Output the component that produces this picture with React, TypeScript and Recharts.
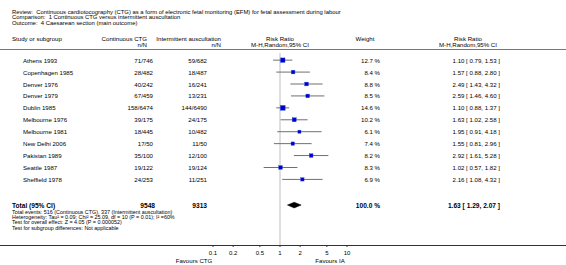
import React from "react";
import { ComposedChart, Scatter, ErrorBar, Area, XAxis, YAxis, ReferenceLine } from "recharts";

const studies = [
  "Athens 1993",
  "Copenhagen 1985",
  "Denver 1976",
  "Denver 1979",
  "Dublin 1985",
  "Melbourne 1976",
  "Melbourne 1981",
  "New Delhi 2006",
  "Pakistan 1989",
  "Seattle 1987",
  "Sheffield 1978",
];
const ctgCounts = ["71/746", "28/482", "40/242", "67/459", "158/6474", "39/175", "18/445", "17/50", "35/100", "19/122", "24/253"];
const iaCounts = ["59/682", "18/487", "16/241", "13/231", "144/6490", "24/175", "10/482", "11/50", "12/100", "19/124", "11/251"];
const weights = [12.7, 8.4, 8.8, 8.5, 14.6, 10.2, 6.1, 7.4, 8.2, 8.3, 6.9];
const riskRatios = [1.1, 1.57, 2.49, 2.59, 1.1, 1.63, 1.95, 1.55, 2.92, 1.02, 2.16];
const ciLow = [0.79, 0.88, 1.43, 1.46, 0.88, 1.02, 0.91, 0.81, 1.61, 0.57, 1.08];
const ciHigh = [1.53, 2.8, 4.32, 4.6, 1.37, 2.58, 4.18, 2.96, 5.28, 1.82, 4.32];

const totalCtg = 9548;
const totalIa = 9313;
const totalWeight = 100.0;
const totalRR = 1.63;
const totalLow = 1.29;
const totalHigh = 2.07;

const xTicks = [0.1, 0.2, 0.5, 1, 2, 5, 10];

const headerLines = [
  "Review:  Continuous cardiotocography (CTG) as a form of electronic fetal monitoring (EFM) for fetal assessment during labour",
  "Comparison:  1 Continuous CTG versus intermittent auscultation",
  "Outcome:  4 Caesarean section (main outcome)",
];
const footLines = [
  "Total events: 516 (Continuous CTG), 337 (Intermittent auscultation)",
  "Heterogeneity: Tau\u00b2 = 0.09; Chi\u00b2 = 25.09, df = 10 (P = 0.01); I\u00b2 =60%",
  "Test for overall effect: Z = 4.05 (P = 0.000052)",
  "Test for subgroup differences: Not applicable",
];

// layout
const W = 566;
const H = 265;
const TOP = 53;
const AXIS_H = 20;
const Y_DOMAIN: [number, number] = [-0.6, 15.5];
const TOTAL_ROW = 12.15;
const DIAMOND_HALF = 0.24;
const FONT = "'Liberation Sans', Arial, Helvetica, sans-serif";

const plotH = H - TOP - AXIS_H;
const rowY = (v: number) => TOP + ((v - Y_DOMAIN[0]) / (Y_DOMAIN[1] - Y_DOMAIN[0])) * plotH;

const fmt = (v: number) => (Math.round(v * 100) / 100).toFixed(2);
const ciText = (r: number, l: number, h: number) => `${fmt(r)} [ ${fmt(l)}, ${fmt(h)} ]`;

const points = studies.map((s, i) => ({
  x: riskRatios[i],
  y: i,
  w: weights[i],
  err: [riskRatios[i] - ciLow[i], ciHigh[i] - riskRatios[i]],
}));

const diamond = [
  { x: totalLow, d: [TOTAL_ROW, TOTAL_ROW] },
  { x: totalRR, d: [TOTAL_ROW - DIAMOND_HALF, TOTAL_ROW + DIAMOND_HALF] },
  { x: totalHigh, d: [TOTAL_ROW, TOTAL_ROW] },
];

const Square = (props: any) => {
  const { cx, cy, payload } = props;
  const s = Math.sqrt(payload.w) * 1.25;
  return <rect x={cx - s / 2} y={cy - s / 2} width={s} height={s} fill="#0000cc" stroke="#2244dd" strokeWidth={0.4} />;
};

const T = (p: {
  x: number;
  y: number;
  a?: "start" | "middle" | "end";
  b?: boolean;
  size?: number;
  children: React.ReactNode;
}) => (
  <text
    x={p.x}
    y={p.y}
    textAnchor={p.a || "start"}
    dominantBaseline="central"
    fontWeight={p.b ? "bold" : "normal"}
    fontSize={p.size || (p.b ? 6.6 : 6.1)}
    style={{ whiteSpace: "pre" }}
  >
    {p.children}
  </text>
);

export default function App() {
  const totalY = rowY(TOTAL_ROW);
  return (
    <div style={{ position: "absolute", left: 0, top: 0, width: W, height: H, background: "#fff" }}>
      <ComposedChart width={W} height={H} margin={{ top: TOP, right: W - 347, bottom: 0, left: 213 }}>
        <XAxis
          type="number"
          dataKey="x"
          scale="log"
          domain={[0.1, 10]}
          ticks={xTicks}
          allowDataOverflow
          axisLine={false}
          tickLine={{ stroke: "#333" }}
          tickSize={2}
          tickMargin={4}
          height={AXIS_H}
          interval={0}
          tick={{ fontSize: 6, fill: "#000", fontFamily: FONT }}
          tickFormatter={(v: number) => String(v)}
        />
        <YAxis type="number" dataKey="y" domain={Y_DOMAIN} reversed hide allowDataOverflow />
        <ReferenceLine x={1} stroke="#d4d4d4" strokeWidth={1.5} />
        <Area
          data={diamond}
          dataKey="d"
          type="linear"
          stroke="#000"
          strokeWidth={0.5}
          fill="#000"
          fillOpacity={1}
          dot={false}
          activeDot={false}
          isAnimationActive={false}
        />
        <Scatter data={points} shape={<Square />} isAnimationActive={false}>
          <ErrorBar dataKey="err" direction="x" width={0} stroke="#707070" strokeWidth={1} isAnimationActive={false} />
        </Scatter>
      </ComposedChart>
      <svg
        width={W}
        height={H}
        style={{ position: "absolute", left: 0, top: 0, pointerEvents: "none" }}
        fontFamily={FONT}
        fill="#000"
      >
        {headerLines.map((t, i) => (
          <T key={t} x={12} y={11.5 + i * 5.9} size={5.9}>
            {t}
          </T>
        ))}
        <T x={12} y={38}>Study or subgroup</T>
        <T x={147} y={38} a="end">Continuous CTG</T>
        <T x={147} y={44} a="end">n/N</T>
        <T x={221} y={38} a="end">Intermittent auscultation</T>
        <T x={221} y={44} a="end">n/N</T>
        <T x={280} y={38} a="middle">Risk Ratio</T>
        <T x={280} y={44} a="middle">M-H,Random,95% CI</T>
        <T x={365} y={38} a="middle">Weight</T>
        <T x={468} y={38} a="middle">Risk Ratio</T>
        <T x={468} y={44} a="middle">M-H,Random,95% CI</T>
        <line x1={0} x2={W} y1={49.5} y2={49.5} stroke="#777" strokeWidth={1} />

        {studies.map((s, i) => {
          const y = rowY(i);
          return (
            <g key={s}>
              <T x={23} y={y}>{s}</T>
              <T x={153} y={y} a="end">{ctgCounts[i]}</T>
              <T x={207} y={y} a="end">{iaCounts[i]}</T>
              <T x={380} y={y} a="end">{`${weights[i].toFixed(1)} %`}</T>
              <T x={500} y={y} a="end">{ciText(riskRatios[i], ciLow[i], ciHigh[i])}</T>
            </g>
          );
        })}

        <T x={12} y={totalY} b>Total (95% CI)</T>
        <T x={155} y={totalY} a="end" b>{String(totalCtg)}</T>
        <T x={207} y={totalY} a="end" b>{String(totalIa)}</T>
        <T x={380} y={totalY} a="end" b>{`${totalWeight.toFixed(1)} %`}</T>
        <T x={500} y={totalY} a="end" b>{ciText(totalRR, totalLow, totalHigh)}</T>
        {footLines.map((t, i) => (
          <T key={t} x={12} y={211.5 + i * 5.4} size={5.4}>
            {t}
          </T>
        ))}

        <line x1={0} x2={W} y1={H - AXIS_H + 0.5} y2={H - AXIS_H + 0.5} stroke="#333" strokeWidth={1} />
        <T x={194} y={260} a="middle">Favours CTG</T>
        <T x={330} y={260} a="middle">Favours IA</T>
      </svg>
    </div>
  );
}
